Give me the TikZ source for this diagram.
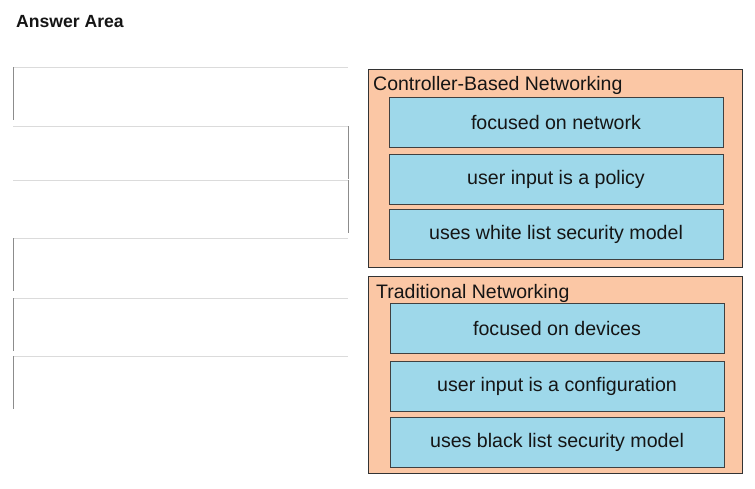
\documentclass[tikz,border=0pt]{standalone}
\usepackage{fontspec}
\setmainfont{Liberation Sans}
\usepackage{tikz}
\usetikzlibrary{positioning, shadows}
\definecolor{panelorange}{HTML}{FBC7A5}
\definecolor{itemblue}{HTML}{9ED8EA}
\definecolor{inkdark}{HTML}{151515}

\begin{document}
\begin{tikzpicture}[x=1pt, y=-1pt,
    slot/.style={minimum width=335pt, minimum height=53pt, inner sep=0pt, outer sep=0pt},
    slottop/.style={black!14, line width=0.8pt},
    slotside/.style={black!45, line width=0.9pt},
    panel/.style={draw=black!80, fill=panelorange, line width=0.9pt, inner sep=0pt, outer sep=0pt, minimum width=374pt},
    paneltitle/.style={text=inkdark, font=\fontsize{19.5}{22}\selectfont, inner sep=0pt},
    item/.style={draw=black!75, fill=itemblue, line width=1pt, inner sep=0pt, outer sep=0pt,
        minimum width=334pt, minimum height=50pt, text=inkdark, font=\fontsize{19.6}{23}\selectfont,
        drop shadow={shadow xshift=1pt, shadow yshift=-1.2pt, fill=black!70, opacity=1}}]
    \useasboundingbox (0,0) rectangle (755,488);

    % Heading
    \node[anchor=base west, inner sep=0pt, text=inkdark, font=\bfseries\fontsize{17.6}{20}\selectfont] (answer) at (16,27) {Answer Area};

    % Empty answer slots
    \foreach \i/\t/\s in {1/67/west, 2/126/east, 3/180/east, 4/238/west, 5/298/west, 6/356/west} {
        \node[slot, anchor=north west] (slot\i) at (13,\t) {};
        \draw[slottop] (slot\i.north west) -- (slot\i.north east);
        \draw[slotside] (slot\i.north \s) -- (slot\i.south \s);
    }

    % Controller-based panel
    \node[panel, anchor=north west, minimum height=198pt] (cbn) at (368,69) {};
    \node[paneltitle, anchor=base west] (cbntitle) at (373,90) {Controller-Based Networking};
    \node[item, anchor=north west] (cbnnet) at (389,97) {focused on network};
    \node[item, anchor=north west] (cbnpolicy) at (389,154) {user input is a policy};
    \node[item, anchor=north west] (cbnwhite) at (389,209) {uses white list security model};

    % Traditional panel
    \node[panel, anchor=north west, minimum height=197pt] (trad) at (368,276) {};
    \node[paneltitle, anchor=base west] (tradtitle) at (376,298) {Traditional Networking};
    \node[item, anchor=north west] (traddev) at (390,303) {focused on devices};
    \node[item, anchor=north west] (tradconf) at (390,361) {user input is a configuration};
    \node[item, anchor=north west] (tradblack) at (390,417) {uses black list security model};
\end{tikzpicture}
\end{document}
